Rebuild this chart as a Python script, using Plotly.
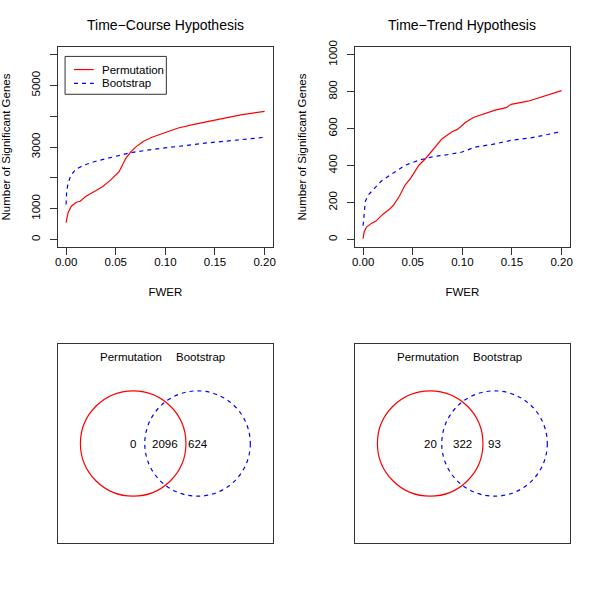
import plotly.graph_objects as go

# ---------------- data ----------------
tc_perm_fwer = [0.0, 0.002, 0.0053, 0.0103, 0.0143, 0.020, 0.0285, 0.037, 0.045, 0.0534, 0.060, 0.065,
                0.070, 0.078, 0.0866, 0.0998, 0.113, 0.130, 0.153, 0.176, 0.200]
tc_perm_genes = [550, 869, 1080, 1208, 1240, 1400, 1560, 1720, 1933, 2200, 2626, 2837,
                 2997, 3190, 3317, 3476, 3617, 3744, 3904, 4042, 4160]
tc_boot_fwer = [0.0, 0.0006, 0.002, 0.005, 0.010, 0.018, 0.030, 0.046, 0.065, 0.087, 0.113, 0.143, 0.170, 0.200]
tc_boot_genes = [1134, 1560, 1827, 2093, 2284, 2412, 2540, 2677, 2817, 2923, 3029, 3137, 3220, 3316]

tt_perm_fwer = [0.0, 0.001, 0.0033, 0.0083, 0.0133, 0.020, 0.0265, 0.0305, 0.0365, 0.0425, 0.048, 0.0514,
                0.0564, 0.063, 0.0697, 0.0746, 0.0796, 0.0896, 0.0945, 0.0995, 0.103, 0.111, 0.123,
                0.133, 0.144, 0.149, 0.166, 0.176, 0.189, 0.200]
tt_perm_genes = [5, 39, 66, 87, 101, 137, 163, 185, 234, 296, 332, 358,
                 403, 438, 482, 518, 545, 583, 594, 615, 633, 660, 683,
                 700, 713, 731, 748, 766, 789, 805]
tt_boot_fwer = [0.0, 0.001, 0.0023, 0.005, 0.010, 0.018, 0.030, 0.043, 0.0564, 0.0697, 0.0863, 0.0996,
                0.113, 0.130, 0.149, 0.169, 0.186, 0.200]
tt_boot_genes = [74, 154, 207, 239, 270, 314, 358, 403, 429, 447, 460, 473,
                 500, 514, 536, 550, 568, 585]

x_ticks = [0.0, 0.05, 0.10, 0.15, 0.20]
x_tick_labels = ["0.00", "0.05", "0.10", "0.15", "0.20"]
tc_y_ticks = [0, 1000, 2000, 3000, 4000, 5000, 6000]
tc_y_tick_labels = ["0", "1000", "", "3000", "", "5000", ""]
tt_y_ticks = [0, 200, 400, 600, 800, 1000]
tt_y_tick_labels = ["0", "200", "400", "600", "800", "1000"]

titles = ["Time−Course Hypothesis", "Time−Trend Hypothesis"]
series_names = ["Permutation", "Bootstrap"]

# Venn counts: [only Permutation, both, only Bootstrap]
venn_tc_counts = [0, 2096, 624]
venn_tt_counts = [20, 322, 93]

# ---------------- style ----------------
FONT = "Liberation Sans, Arial, Helvetica, sans-serif"
RED = "#FF0000"
BLUE = "#0000FF"
AXC = "#333333"
DASH = "4px,4px"
FS = 11.5

W, H = 600, 599
def px(x):
    return x / W
def py(y):
    return 1 - y / H

dom_x_left = [px(55.7), px(272.3)]
dom_x_right = [px(355.7), px(572.3)]
dom_y_top = [py(242.7), py(40.7)]
dom_y_bot = [py(542.7), py(340.7)]

fig = go.Figure()

line_kw = dict(mode="lines", showlegend=False)
fig.add_trace(go.Scatter(x=tc_perm_fwer, y=tc_perm_genes, name=series_names[0],
                         line=dict(color=RED, width=1.2), xaxis="x", yaxis="y", **line_kw))
fig.add_trace(go.Scatter(x=tc_boot_fwer, y=tc_boot_genes, name=series_names[1],
                         line=dict(color=BLUE, width=1.2, dash=DASH), xaxis="x", yaxis="y", **line_kw))
fig.add_trace(go.Scatter(x=tt_perm_fwer, y=tt_perm_genes, name=series_names[0],
                         line=dict(color=RED, width=1.2), xaxis="x2", yaxis="y2", **line_kw))
fig.add_trace(go.Scatter(x=tt_boot_fwer, y=tt_boot_genes, name=series_names[1],
                         line=dict(color=BLUE, width=1.2, dash=DASH), xaxis="x2", yaxis="y2", **line_kw))

tickfont = dict(family=FONT, size=FS, color="black")
titlefont = dict(family=FONT, size=FS, color="black")

def xax(domain, anchor):
    return dict(domain=domain, anchor=anchor, range=[-0.008, 0.208], tickvals=x_ticks, ticktext=x_tick_labels,
                showline=True, linecolor=AXC, linewidth=1, mirror=True, ticks="outside", ticklen=7,
                tickcolor=AXC, tickfont=tickfont, showgrid=False, zeroline=False, ticklabelstandoff=-3,
                title=dict(text="FWER", font=titlefont, standoff=21))

def yax(domain, anchor, rng, tv, tt):
    return dict(domain=domain, anchor=anchor, range=rng, tickvals=tv, ticktext=tt, tickangle=-90,
                showline=True, linecolor=AXC, linewidth=1, mirror=True, ticks="outside", ticklen=7,
                tickcolor=AXC, tickfont=tickfont, showgrid=False, zeroline=False, ticklabelstandoff=6,
                title=dict(text="Number of Significant Genes", font=titlefont, standoff=17))

# Venn geometry (data units of the Venn panels)
venn_centers = [-1.0, 1.0]
venn_radius = 1.64
venn_xr = 3.332
venn_yr = 3.108
venn_label_x = [-1.07, 1.09]
venn_label_y = 2.7
venn_count_x = [-1.0, 0.0, 1.0]

def vax(domain, anchor, r):
    return dict(domain=domain, anchor=anchor, range=[-r, r], visible=True, showticklabels=False,
                ticks="", showgrid=False, zeroline=False, showline=True, linecolor=AXC, linewidth=1,
                mirror=True)

fig.update_layout(
    width=W, height=H, margin=dict(l=0, r=0, t=0, b=0),
    paper_bgcolor="white", plot_bgcolor="white",
    font=dict(family=FONT, color="black"),
    xaxis=xax(dom_x_left, "y"),
    yaxis=yax(dom_y_top, "x", [-240, 6240], tc_y_ticks, tc_y_tick_labels),
    xaxis2=xax(dom_x_right, "y2"),
    yaxis2=yax(dom_y_top, "x2", [-40, 1040], tt_y_ticks, tt_y_tick_labels),
    xaxis3=vax(dom_x_left, "y3", venn_xr),
    yaxis3=vax(dom_y_bot, "x3", venn_yr),
    xaxis4=vax(dom_x_right, "y4", venn_xr),
    yaxis4=vax(dom_y_bot, "x4", venn_yr),
    showlegend=False,
)

# legend (drawn as a key box, R-style)
leg_box = dict(x0=62.7, x1=165, y0=50, y1=88.3)
leg_rows = [63.3, 77.3]
fig.add_shape(type="rect", xref="paper", yref="paper", x0=px(leg_box["x0"]), x1=px(leg_box["x1"]),
              y0=py(leg_box["y1"]), y1=py(leg_box["y0"]), line=dict(color=AXC, width=1), fillcolor="white",
              layer="above")
for name, col, dash, ry in zip(series_names, [RED, BLUE], ["solid", DASH], leg_rows):
    fig.add_shape(type="line", xref="paper", yref="paper", x0=px(71.7), x1=px(91.7), y0=py(ry), y1=py(ry),
                  line=dict(color=col, width=1.2, dash=dash), layer="above")
    fig.add_annotation(text=name, xref="paper", yref="paper", x=px(99.0), y=py(ry), xanchor="left",
                       yanchor="middle", showarrow=False, borderpad=0,
                       font=dict(family=FONT, size=FS, color="black"))

# titles
for t, dom in zip(titles, [dom_x_left, dom_x_right]):
    fig.add_annotation(text=t, xref="paper", yref="paper", x=(dom[0] + dom[1]) / 2, y=py(18.5),
                       xanchor="center", yanchor="middle", showarrow=False,
                       font=dict(family=FONT, size=14, color="black"))

# Venn diagrams
for (xa, ya), counts in zip([("x3", "y3"), ("x4", "y4")], [venn_tc_counts, venn_tt_counts]):
    for c, col, dash in zip(venn_centers, [RED, BLUE], ["solid", DASH]):
        fig.add_shape(type="circle", xref=xa, yref=ya, x0=c - venn_radius, x1=c + venn_radius,
                      y0=-venn_radius, y1=venn_radius, line=dict(color=col, width=1.2, dash=dash))
    for name, lx in zip(series_names, venn_label_x):
        fig.add_annotation(text=name, xref=xa, yref=ya, x=lx, y=venn_label_y, showarrow=False,
                           xanchor="center", yanchor="middle", font=dict(family=FONT, size=FS, color="black"))
    for cnt, cx in zip(counts, venn_count_x):
        fig.add_annotation(text=str(cnt), xref=xa, yref=ya, x=cx, y=0, showarrow=False,
                           xanchor="center", yanchor="middle", font=dict(family=FONT, size=FS, color="black"))

fig.write_html("out.html", config={"displayModeBar": False},
               post_script="document.body.style.margin='0';")
